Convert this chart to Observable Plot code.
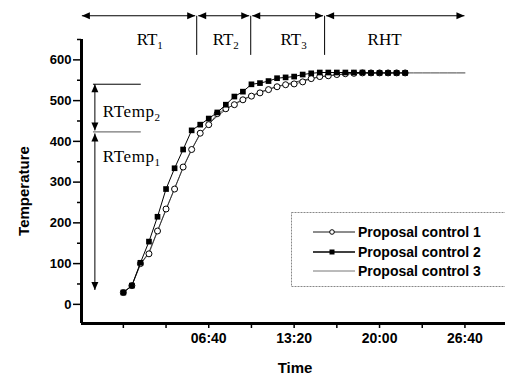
<!DOCTYPE html>
<html><head><meta charset="utf-8">
<script src="https://cdn.jsdelivr.net/npm/d3@7"></script>
<script src="https://cdn.jsdelivr.net/npm/@observablehq/plot@0.6"></script>
<style>
body{margin:0;background:#fff;overflow:hidden;}
#wrap{position:relative;width:505px;height:377px;overflow:hidden;}
</style></head><body><div id="wrap"></div>
<script>
// time in seconds
const times = [0,40,80,120,160,200,240,280,320,360,400,440,480,520,560,600,640,680,720,760,800,840,880,920,960,1000,1040,1080,1120,1160,1200,1240,1280,1320];
const control1 = [29,46,100,124,180,234,283,337,380,420,441,468,480,490,502,511,519,527,534,539,541,546,554,559,561,564,566,567,568,568,568,568,568,568];
const control2 = [29,46,102,154,215,283,334,380,427,441,456,471,490,510,522,540,543,548,555,557,559,564,567,569,569,569,569,569,569,568,568,568,568,568];
const times3 = [0,40,80,120,160,200,240,280,320,360,400,440,480,520,560,600,640,680,720,760,800,840,880,920,960,1000,1040,1080,1120,1160,1200,1240,1280,1320,1360,1400,1440,1480,1520,1560,1600];
const control3 = [29,46,98,128,180,232,285,335,380,418,443,462,478,492,503,512,521,528,535,540,545,550,554,558,561,563,565,566,567,568,568,568,568,568,568,568,568,568,568,568,568];
const seriesNames = ["Proposal control 1","Proposal control 2","Proposal control 3"];

const xTicks = [0,200,400,600,800,1000,1200,1400,1600];
const xTickLabels = ["","","06:40","","13:20","","20:00","","26:40"];
const yTicks = [0,100,200,300,400,500,600];
const yMinorTicks = [50,150,250,350,450,550,650];

// phase annotations (top arrows)
const phaseBounds = [-192,346,599,945,1600];
const phaseLabels = [["RT","1"],["RT","2"],["RT","3"],["RHT",""]];
const phaseLabelX = [126,482,800,1226];
// temperature range annotations (left arrows)
const tempBounds = [539,422,34];
const tempLabels = [["RTemp","2"],["RTemp","1"]];
const tempLabelY = [459,348];

const d1 = times.map((t,i)=>({t, v:control1[i]}));
const d2 = times.map((t,i)=>({t, v:control2[i]}));
const d3s = times3.map((t,i)=>({t, v:control3[i]}));
const labelOf = new Map(xTicks.map((t,i)=>[t,xTickLabels[i]]));

const chart = Plot.plot({
  width:505, height:377,
  marginLeft:81, marginRight:0, marginTop:39, marginBottom:54,
  style:{fontFamily:"'Liberation Sans', Arial, sans-serif", background:"white", color:"#000"},
  x:{domain:[-196,1790]},
  y:{domain:[-47,650]},
  marks:[
    Plot.line(d3s,{x:"t",y:"v",stroke:"#444",strokeWidth:1}),
    Plot.line(d1,{x:"t",y:"v",stroke:"#333",strokeWidth:0.7}),
    Plot.dot(d1,{x:"t",y:"v",r:3,stroke:"#000",fill:"white",strokeWidth:1}),
    Plot.line(d2,{x:"t",y:"v",stroke:"#000",strokeWidth:1}),
    Plot.dot(d2,{x:"t",y:"v",symbol:"square",r:3.2,fill:"#000",stroke:"none"}),
    Plot.axisY(yMinorTicks,{tickSize:4, tickFormat:()=>"", label:null, strokeWidth:1.5}),
    Plot.axisY(yTicks,{tickSize:8, tickPadding:2, fontSize:13, fontWeight:"bold", label:null, strokeWidth:1.5}),
    Plot.axisX(xTicks,{tickSize:5, tickPadding:5, fontSize:14, fontWeight:"bold", label:null, strokeWidth:1.5, tickFormat:d=>labelOf.get(d)}),
    Plot.ruleX([-196],{strokeWidth:3}),
    Plot.ruleY([-47],{strokeWidth:3})
  ]
});
document.getElementById("wrap").appendChild(chart);

const sx = chart.scale("x"), sy = chart.scale("y");
const X = v=>sx.apply(v), Y = v=>sy.apply(v);
const svg = d3.select(chart);
const g = svg.append("g").attr("text-anchor","start");

function head(x,y,dir){ // tip at x,y
  const L=8, W=3.5;
  let p;
  if(dir==="r") p=[[x,y],[x-L,y-W],[x-L,y+W]];
  if(dir==="l") p=[[x,y],[x+L,y-W],[x+L,y+W]];
  if(dir==="u") p=[[x,y],[x-W,y+L],[x+W,y+L]];
  if(dir==="d") p=[[x,y],[x-W,y-L],[x+W,y-L]];
  g.append("path").attr("d","M"+p.map(q=>q.join(",")).join("L")+"Z").attr("fill","#000");
}
// top phase arrows
const yTop = Y(707), yDivBottom = Y(611);
for(let i=0;i<4;i++){
  const a = X(phaseBounds[i])+(i>0?1.5:0), b = X(phaseBounds[i+1])-(i<3?1.5:0);
  g.append("line").attr("x1",a).attr("x2",b).attr("y1",yTop).attr("y2",yTop).attr("stroke","#000").attr("stroke-width",1.2);
  head(a,yTop,"l"); head(b,yTop,"r");
  const t = g.append("text").attr("x",X(phaseLabelX[i])).attr("y",Y(636)).attr("text-anchor","middle")
    .attr("font-family","'Liberation Serif', 'Times New Roman', serif").attr("font-size",17).attr("font-weight","normal");
  t.append("tspan").text(phaseLabels[i][0]);
  if(phaseLabels[i][1]) t.append("tspan").attr("font-size",11).attr("dy",4).text(phaseLabels[i][1]);
}
for(let i=1;i<4;i++){
  g.append("line").attr("x1",X(phaseBounds[i])).attr("x2",X(phaseBounds[i])).attr("y1",yTop).attr("y2",yDivBottom).attr("stroke","#000").attr("stroke-width",1);
}
// left temperature arrows
const xArr = X(-131);
for(let i=0;i<2;i++){
  const a = Y(tempBounds[i])+(i>0?1.5:0), b = Y(tempBounds[i+1])-(i===0?1.5:0);
  g.append("line").attr("x1",xArr).attr("x2",xArr).attr("y1",a).attr("y2",b).attr("stroke","#000").attr("stroke-width",1);
  head(xArr,a,"u"); head(xArr,b,"d");
}
g.append("line").attr("x1",X(-140)).attr("x2",X(84)).attr("y1",Y(tempBounds[0])).attr("y2",Y(tempBounds[0])).attr("stroke","#000").attr("stroke-width",1);
g.append("line").attr("x1",X(-140)).attr("x2",X(84)).attr("y1",Y(tempBounds[1])).attr("y2",Y(tempBounds[1])).attr("stroke","#777").attr("stroke-width",1.2);
for(let i=0;i<2;i++){
  const t = g.append("text").attr("x",X(-94)).attr("y",Y(tempLabelY[i])).attr("text-anchor","start")
    .attr("font-family","'Liberation Serif', 'Times New Roman', serif").attr("font-size",17).attr("letter-spacing",0.6).attr("font-weight","normal");
  t.append("tspan").text(tempLabels[i][0]);
  t.append("tspan").attr("font-size",11).attr("dy",4).text(tempLabels[i][1]);
}
// axis titles
g.append("text").attr("transform","translate(29,191) rotate(-90)").attr("text-anchor","middle")
  .attr("font-size",15).attr("font-weight","bold").text("Temperature");
g.append("text").attr("x",295).attr("y",373).attr("text-anchor","middle")
  .attr("font-size",15).attr("font-weight","bold").text("Time");

// legend
const lg = g.append("g");
lg.append("rect").attr("x",291.5).attr("y",212.5).attr("width",225).attr("height",74)
  .attr("fill","white").attr("stroke","#888").attr("stroke-dasharray","2,1");
const rows=[232,252,271];
rows.forEach((ry,i)=>{
  lg.append("line").attr("x1",313).attr("x2",355).attr("y1",ry).attr("y2",ry)
    .attr("stroke",i===2?"#666":"#000").attr("stroke-width",i===1?1.4:0.9);
  if(i===0) lg.append("circle").attr("cx",332).attr("cy",ry).attr("r",2.3).attr("fill","white").attr("stroke","#000");
  if(i===1) lg.append("rect").attr("x",329.5).attr("y",ry-2.5).attr("width",5).attr("height",5).attr("fill","#000");
  lg.append("text").attr("x",358).attr("y",ry+5).attr("text-anchor","start").attr("font-size",14).attr("font-weight","bold").text(seriesNames[i]);
});
</script></body></html>
